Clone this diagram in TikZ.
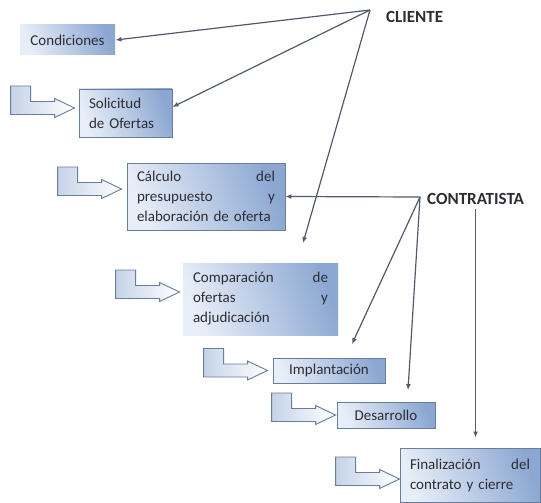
\documentclass[tikz,border=0pt]{standalone}
\usepackage{fontspec}
\setmainfont{Carlito}
\usetikzlibrary{arrows.meta}
\definecolor{box_light}{RGB}{232,238,248}
\definecolor{box_dark}{RGB}{140,168,210}
\definecolor{box_line}{RGB}{105,124,156}
\definecolor{link_c}{RGB}{80,92,110}
\definecolor{txt_c}{RGB}{45,45,52}

% bent block arrow, its tip at the origin
\tikzset{
	hookarrow/.pic={
		\draw[box_line, line width=0.9pt, left color=box_dark!50, right color=white]
			(-64,-22) -- (-44,-22) -- (-44,-6.5) -- (-20,-6.5) -- (-20,-9.5) -- (0,0)
			-- (-20,9.5) -- (-20,6.5) -- (-64,6.5) -- cycle;
	}
}

\begin{document}
\begin{tikzpicture}[
			x=1pt, y=-1pt,
			font=\fontsize{15}{20}\selectfont,
			text=txt_c,
			stage/.style = {rectangle, draw=box_line, line width=0.9pt,
				left color=box_light, right color=box_dark, shading angle=110,
				inner xsep=10pt, inner ysep=3pt, align=left},
			plain/.style = {stage, draw=none},
			actor/.style = {font=\fontsize{17}{20}\selectfont\bfseries, inner sep=1pt, anchor=west},
			link/.style = {-{Latex[length=6pt,width=5pt]}, draw=link_c, line width=1.2pt},
			]
			\fill[white] (0,0) rectangle (541,503);
			\useasboundingbox (0,0) rectangle (541,503);
			% stages
			\node[plain, minimum width=95pt, minimum height=30pt] (cond) at (67.5,40) {Condiciones};
			\node[stage, minimum height=48pt, text width=73pt] (solic) at (125.5,113) {Solicitud\\de Ofertas};
			\node[stage, minimum height=67pt, text width=138pt] (calc) at (206,196.5) {Cálculo \hfill del\\presupuesto \hfill y\\elaboración de oferta};
			\node[plain, minimum height=72pt, text width=135pt] (comp) at (260.5,299) {Comparación \hfill de\\ofertas \hfill y\\adjudicación};
			\node[stage, minimum width=112pt, minimum height=25pt, align=center] (impl) at (329,370.5) {Implantación};
			\node[stage, minimum width=98pt, minimum height=26pt, align=center] (desa) at (386,415) {Desarrollo};
			\node[stage, minimum height=54pt, text width=120pt] (fina) at (470,475) {Finalización \hfill del\\contrato y cierre};
			% bent arrows in front of the stages
			\pic at ([shift={(-4,-5)}]solic.west) {hookarrow};
			\pic at ([shift={(-5,-7.5)}]calc.west) {hookarrow};
			\pic at ([shift={(-3,-7)}]comp.west) {hookarrow};
			\pic at ([shift={(-5,0)}]impl.west) {hookarrow};
			\pic at ([shift={(-1,0)}]desa.west) {hookarrow};
			\pic at ([shift={(0,4)}]fina.west) {hookarrow};
			% actors
			\node[actor] (cliente) at (385,17) {CLIENTE};
			\node[actor] (contr) at (426,199) {CONTRATISTA};
			\coordinate (cliHub) at (370,10);
			\coordinate (conHub) at (420,197);
			\coordinate (compEnd) at (303,243);
			\coordinate (implEnd) at (352,344);
			\coordinate (desaEnd) at (408,390);
			% links
			\draw[link] (cliHub) -- (cond.east);
			\draw[link] (cliHub) -- ([yshift=6pt]solic.east);
			\draw[link] (cliHub) -- (compEnd);
			\draw[link] (conHub) -- (calc.east);
			\draw[link] (conHub) -- (implEnd);
			\draw[link] (conHub) -- (desaEnd);
			\draw[link, shorten >=10pt] ([yshift=-3pt]contr.south) -- (contr.south |- fina.north);
		\end{tikzpicture}
\end{document}
